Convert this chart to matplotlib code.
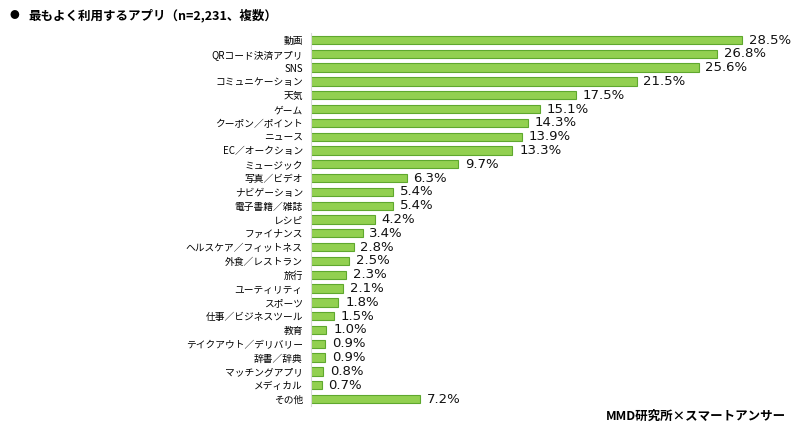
import matplotlib.pyplot as plt

plt.rcParams['font.family'] = ['Noto Sans CJK JP', 'DejaVu Sans']

# データ
categories = ['動画', 'QRコード決済アプリ', 'SNS', 'コミュニケーション', '天気', 'ゲーム',
              'クーポン／ポイント', 'ニュース', 'EC／オークション', 'ミュージック', '写真／ビデオ',
              'ナビゲーション', '電子書籍／雑誌', 'レシピ', 'ファイナンス', 'ヘルスケア／フィットネス',
              '外食／レストラン', '旅行', 'ユーティリティ', 'スポーツ', '仕事／ビジネスツール', '教育',
              'テイクアウト／デリバリー', '辞書／辞典', 'マッチングアプリ', 'メディカル', 'その他']
values = [28.5, 26.8, 25.6, 21.5, 17.5, 15.1, 14.3, 13.9, 13.3, 9.7, 6.3,
          5.4, 5.4, 4.2, 3.4, 2.8, 2.5, 2.3, 2.1, 1.8, 1.5, 1.0,
          0.9, 0.9, 0.8, 0.7, 7.2]

fig = plt.figure(figsize=(8, 4.3), dpi=100)
ax = fig.add_axes([0.389, 0.056, 0.611, 0.867])

y = range(len(categories))
ax.barh(y, values, height=0.6, color='#92D050', edgecolor='#5FA82E', linewidth=0.8)
for i, v in enumerate(values):
    ax.text(v + 0.45, i, f'{v:.1f}%', va='center', ha='left', fontsize=9.5,
            family=['DejaVu Sans'], color='#111111')

ax.set_xlim(0, 32.3)
ax.set_ylim(len(categories) - 0.5, -0.5)
ax.set_yticks(list(y))
ax.set_yticklabels(categories, fontsize=7)
ax.tick_params(axis='y', length=0, pad=6)
ax.set_xticks([])
for s in ['top', 'right', 'bottom']:
    ax.spines[s].set_visible(False)
ax.spines['left'].set_color('#D9D9D9')
ax.spines['left'].set_linewidth(0.8)

fig.text(0.012, 0.965, '●', fontsize=7, va='center', ha='left')
fig.text(0.036, 0.965, '最もよく利用するアプリ（n=2,231、複数）', fontsize=9,
         fontweight='bold', va='center', ha='left')
fig.text(0.982, 0.031, 'MMD研究所×スマートアンサー', fontsize=9, fontweight='bold',
         va='center', ha='right')

fig.savefig('out.png', dpi=100)
